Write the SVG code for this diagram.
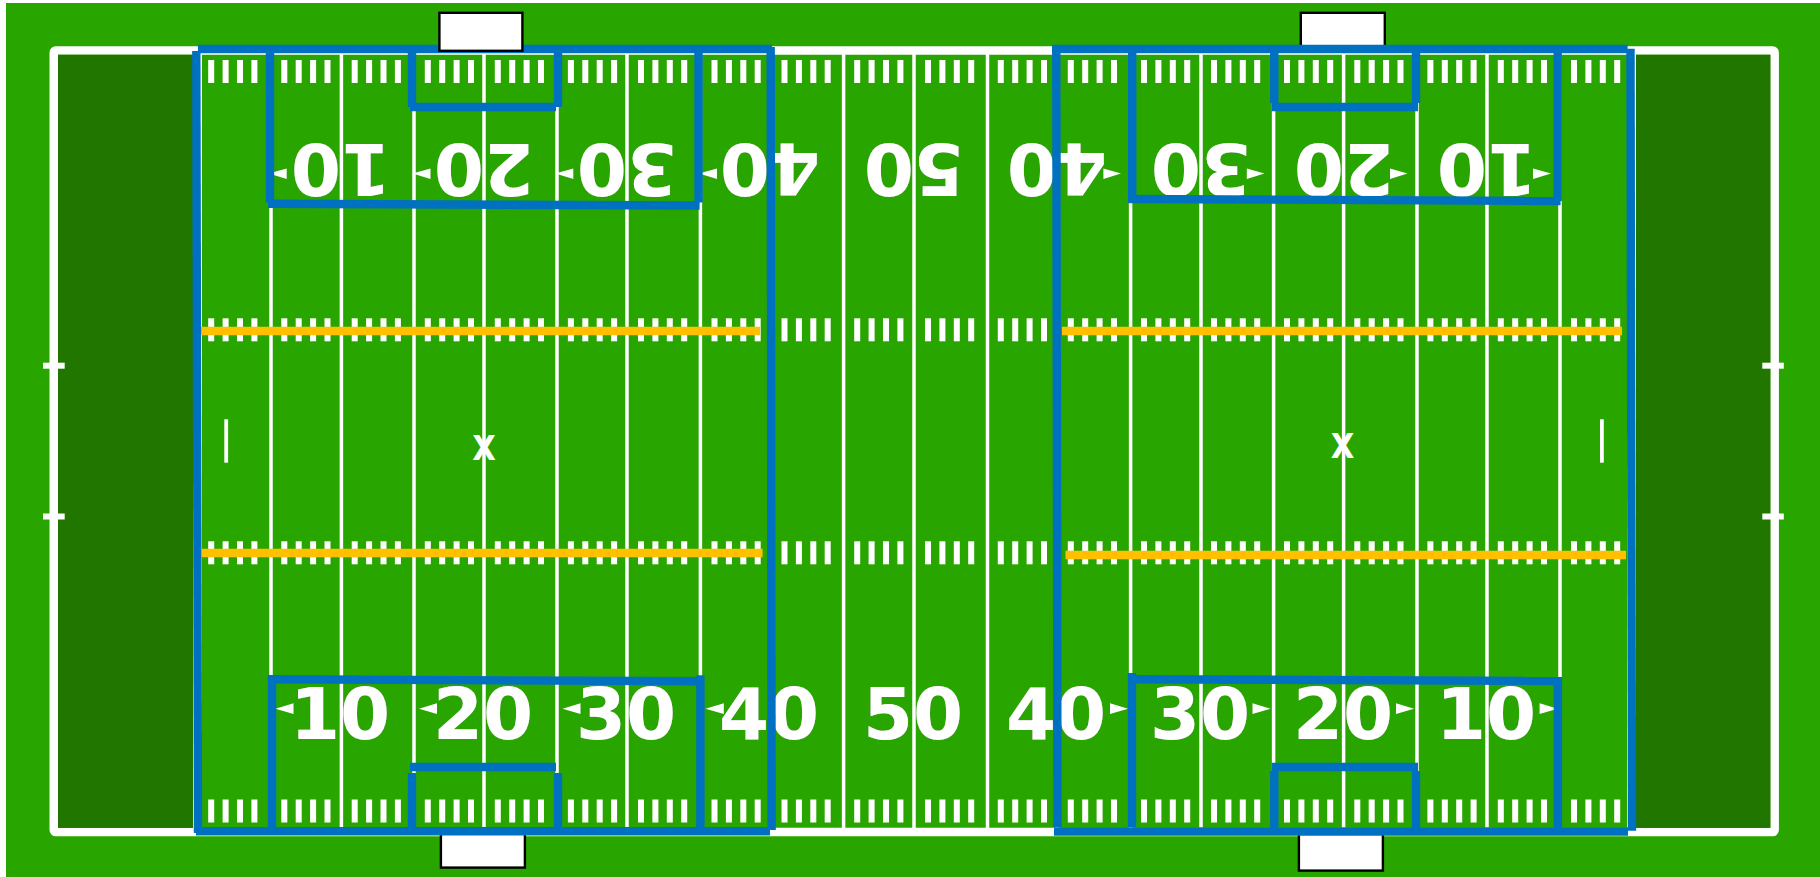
<svg xmlns="http://www.w3.org/2000/svg" width="1820" height="877" viewBox="0 0 1820 877">
<style>
.yl{stroke:#fff;stroke-width:3.5;fill:none}
.bl{stroke:#0070c0;stroke-width:8.4;fill:none}
.ye{stroke:#ffc000;stroke-width:8.4;fill:none}
.num{font:bold 72px "DejaVu Sans",sans-serif;fill:#fff;text-anchor:middle;filter:drop-shadow(0.6px 0.6px 0 #999)}
.x{font:bold 34px "DejaVu Sans Condensed","DejaVu Sans",sans-serif;fill:#fff;text-anchor:middle}
.tick{fill:#fff}
.post{fill:#fff;stroke:#000;stroke-width:2.4}
</style>
<defs>
<g id="bars">
<rect x="0" width="6" height="23" fill="#fff"/><rect x="14.4" width="6" height="23" fill="#fff"/><rect x="28.8" width="6" height="23" fill="#fff"/><rect x="43.2" width="6" height="23" fill="#fff"/>
</g>
<g id="hash">
<use href="#bars" y="60"/><use href="#bars" y="318.3"/><use href="#bars" y="541.3"/><use href="#bars" y="799.5"/>
</g>
</defs>
<rect x="0" y="0" width="1820" height="877" fill="#fff"/>
<rect x="6" y="3" width="1814" height="874" fill="#29a500"/>
<g id="field">
<rect x="53.8" y="50.5" width="1720.8" height="781.5" rx="2" fill="#29a500" stroke="#fff" stroke-width="8.6"/>
<rect x="58" y="54.7" width="135" height="773.2" fill="#217600"/>
<rect x="1635" y="54.7" width="135.4" height="773.2" fill="#217600"/>
<path class="yl" style="stroke-width:9" d="M197.5 54V828M1631.5 54V828"/>
<path class="yl" d="M271 54V828M341.4 54V828M414 54V828M484 54V828M557 54V828M627 54V828M700.4 54V828M770 54V828M843.6 54V828M914 54V828M987.5 54V828M1057 54V828M1130.6 54V828M1201 54V828M1273.6 54V828M1343.6 54V828M1417 54V828M1487 54V828M1560 54V828"/>
</g>
<g id="hashes">
<use href="#hash" x="208.2"/><use href="#hash" x="281.3"/><use href="#hash" x="351.7"/><use href="#hash" x="424.8"/><use href="#hash" x="494.8"/><use href="#hash" x="567.9"/><use href="#hash" x="638"/><use href="#hash" x="711.5"/><use href="#hash" x="781.5"/><use href="#hash" x="854.2"/><use href="#hash" x="925"/><use href="#hash" x="997.8"/><use href="#hash" x="1067.8"/><use href="#hash" x="1141"/><use href="#hash" x="1211"/><use href="#hash" x="1284"/><use href="#hash" x="1354.3"/><use href="#hash" x="1427.4"/><use href="#hash" x="1497.8"/><use href="#hash" x="1571"/>
</g>
<g id="marks">
<rect class="tick" x="43" y="362.7" width="21.7" height="6"/><rect class="tick" x="43" y="513.5" width="21.7" height="6"/>
<rect class="tick" x="1762.3" y="362.7" width="21.5" height="6"/><rect class="tick" x="1762.3" y="513.5" width="21.5" height="6"/>
<rect class="tick" x="224.3" y="419.3" width="3.8" height="43.4"/><rect class="tick" x="1600" y="419.3" width="3.8" height="43.4"/>
<text class="x" x="484" y="459.5">X</text>
<text class="x" x="1342.5" y="457.5">X</text>
</g>
<g id="yellow-lines">
<path class="ye" d="M200 331H760M202 553H762.6M1062 331H1622M1065.5 555H1626"/>
</g>
<g id="numbers-bottom">
<text class="num" x="340" y="739.3">10</text><text class="num" x="483" y="739.3">20</text><text class="num" x="626" y="739.3">30</text><text class="num" x="769" y="739.3">40</text><text class="num" x="913" y="739.3">50</text><text class="num" x="1056" y="739.3">40</text><text class="num" x="1200" y="739.3">30</text><text class="num" x="1343" y="739.3">20</text><text class="num" x="1486" y="739.3">10</text>
</g>
<g id="numbers-top">
<text class="num" transform="rotate(180 341 143.6)" x="341" y="143.6">10</text><text class="num" transform="rotate(180 484 143.6)" x="484" y="143.6">20</text><text class="num" transform="rotate(180 627 143.6)" x="627" y="143.6">30</text><text class="num" transform="rotate(180 770 143.6)" x="770" y="143.6">40</text><text class="num" transform="rotate(180 914 143.6)" x="914" y="143.6">50</text><text class="num" transform="rotate(180 1057 143.6)" x="1057" y="143.6">40</text><text class="num" transform="rotate(180 1201 143.6)" x="1201" y="143.6">30</text><text class="num" transform="rotate(180 1344 143.6)" x="1344" y="143.6">20</text><text class="num" transform="rotate(180 1487 143.6)" x="1487" y="143.6">10</text>
</g>
<g id="arrows" fill="#fff">
<path d="M275.5 708.7L293.5 703.3V714ZM419 708.7L437 703.3V714ZM562.5 708.7L580.5 703.3V714ZM705.6 708.7L723.8 703.3V714Z"/>
<path d="M1128 708.7L1110 703.3V714ZM1270.5 708.7L1252.5 703.3V714ZM1414 708.7L1396 703.3V714ZM1557.6 708.7L1539.6 703.3V714Z"/>
<path d="M268.7 173.5L286.7 168.5V179ZM412.5 173.5L430.5 168.5V179ZM555.3 173.5L573.3 168.5V179ZM699 173.5L717 168.5V179Z"/>
<path d="M1121 173.5L1103.4 168.5V179ZM1264.4 173.5L1246.8 168.5V179ZM1407.5 173.5L1390 168.5V179ZM1551 173.5L1533 168.5V179Z"/>
</g>
<g id="post-top-right"><rect class="post" x="1300.8" y="12.8" width="84" height="38"/></g>
<g id="post-bottom-left"><rect class="post" x="440.9" y="830" width="84" height="37.6"/></g>
<g id="post-bottom-right"><rect class="post" x="1298.9" y="830" width="84" height="40.6"/></g>
<g id="connectors">
<path class="bl" d="M197.9 49H772"/>
<path class="bl" d="M196.3 51L198 833"/>
<path class="bl" d="M196 831.2H770"/>
<path class="bl" d="M770.7 47L771.6 830"/>
<path class="bl" d="M270 47V202.5"/>
<path class="bl" d="M268 203.7L699.6 205.5"/>
<path class="bl" d="M698.5 47V202.5"/>
<path class="bl" d="M412 47V107"/>
<path class="bl" d="M558 47V107"/>
<path class="bl" d="M410 107H556"/>
<path class="bl" d="M1052 49H1627.6"/>
<path class="bl" d="M1056.3 45L1057.5 827"/>
<path class="bl" d="M1630.5 48.7L1632 830.7"/>
<path class="bl" d="M1054 831.5H1628"/>
<path class="bl" d="M1132.2 47V202.5"/>
<path class="bl" d="M1128.3 199L1560.6 201"/>
<path class="bl" d="M1557.7 47V201"/>
<path class="bl" d="M1274.3 47V103"/>
<path class="bl" d="M1416 47V103"/>
<path class="bl" d="M1271.7 107H1418"/>
<path class="bl" d="M268 679.3L703.6 681.3"/>
<path class="bl" d="M272 675V830"/>
<path class="bl" d="M700.4 675.3V829"/>
<path class="bl" d="M410 767H556"/>
<path class="bl" d="M412 773V830"/>
<path class="bl" d="M558 773V830"/>
<path class="bl" d="M1132 673V827"/>
<path class="bl" d="M1128 679.2L1561.7 681"/>
<path class="bl" d="M1557.9 677V830"/>
<path class="bl" d="M1271.7 767H1418"/>
<path class="bl" d="M1274.3 771V830"/>
<path class="bl" d="M1416 771V830"/>
</g>
<g id="post-top-left"><rect class="post" x="439.4" y="12.8" width="83" height="38"/></g>
</svg>
